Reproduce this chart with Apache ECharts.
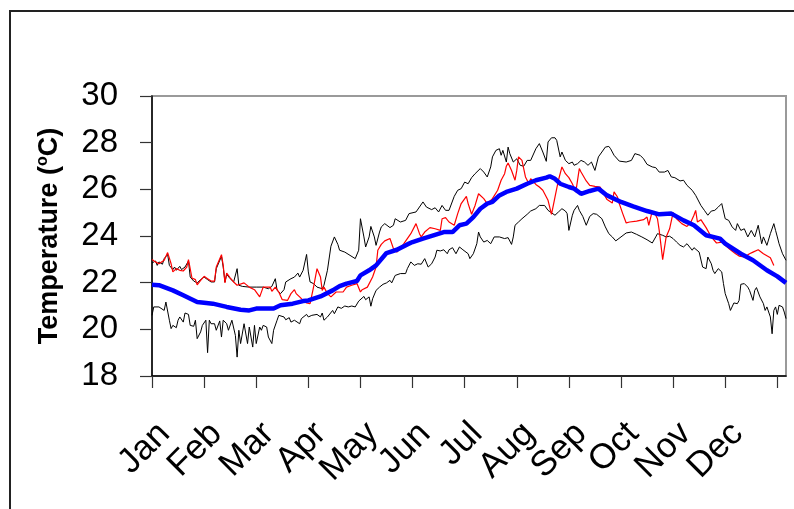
<!DOCTYPE html>
<html>
<head>
<meta charset="utf-8">
<script src="https://cdn.jsdelivr.net/npm/echarts@6/dist/echarts.min.js"></script>
<style>
  html, body { margin: 0; padding: 0; background: #fff; }
  #chart { width: 794px; height: 509px; }
</style>
</head>
<body>
<div id="chart"></div>
<script>
// Month labels, placed every 30 days along the day-of-year axis
const monthNames = ['Jan', 'Feb', 'Mar', 'Apr', 'May', 'Jun', 'Jul', 'Aug', 'Sep', 'Oct', 'Nov', 'Dec'];
const tickDays = [0, 30, 60, 90, 120, 150, 180, 210, 240, 270, 300, 330, 360];
const labelDays = [0, 30, 60, 90, 120, 150, 180, 210, 240, 270, 300, 330];
const tempTicks = [18, 20, 22, 24, 26, 28, 30];

// Daily maximum of the record: [day of year, °C]
const upperRecord = [
  [0,22.84],[2,22.93],[3,22.74],[4,22.89],[6,22.79],[7,23.03],[9,23.21],[10,22.74],[12,22.56],[13,22.67],
  [14,22.53],[16,22.7],[17,22.56],[19,22.67],[21,22.93],[22,22.24],[24,22.07],[26,21.99],[27,22.07],[28,22.13],
  [30,22.24],[32,22.13],[34,22.03],[36,22.03],[37,22.6],[40,23.13],[41,22.67],[42,22.03],[43,22.36],[45,22.17],
  [47,22.03],[49,22.6],[50,21.89],[52,21.84],[56,21.81],[60,21.81],[64,21.81],[67,21.74],[69,21.84],[71,22.17],
  [72,21.67],[74,21.53],[76,21.7],[77,22.03],[80,22.17],[82,22.24],[84,22.41],[85,22.24],[87,22.53],[89,23.21],
  [90,22.46],[91,22.03],[93,21.96],[95,21.81],[98,21.74],[99,21.89],[101,22.53],[103,23.56],[105,23.96],[107,23.64],
  [108,23.39],[111,23.31],[114,23.17],[117,23.03],[119,23.39],[120,24.74],[122,23.96],[123,23.53],[125,23.96],[126,24.41],
  [128,23.96],[129,23.6],[131,24.17],[132,24.39],[134,24.53],[137,24.36],[139,24.46],[140,24.74],[143,24.6],[146,24.67],
  [148,24.96],[152,25.03],[156,25.46],[158,25.24],[159,25.31],[161,25.13],[163,25.21],[165,25.03],[167,25.31],[169,25.1],
  [171,25.1],[174,25.7],[176,25.96],[178,26.03],[180,26.31],[182,26.24],[184,26.5],[186,26.67],[189,26.89],[191,26.74],
  [193,26.53],[195,26.96],[196,27.39],[198,27.67],[200,27.74],[201,27.46],[202,27.67],[204,27.17],[205,27.81],[206,27.53],
  [208,27.17],[210,27.31],[212,27.03],[214,26.99],[216,27.24],[218,27.24],[219,27.31],[221,27.74],[223,27.96],[225,27.6],
  [227,27.2],[228,28.03],[230,28.21],[232,28.21],[233,28.1],[235,27.39],[236,27.6],[238,27.24],[240,27.1],[242,27.17],
  [243,27.03],[245,27.1],[247,27.24],[249,27.17],[251,27.03],[253,27.17],[255,26.81],[257,27.39],[259,27.6],[261,27.81],
  [263,27.84],[264,27.74],[266,27.46],[269,27.21],[273,27.17],[276,27.24],[278,27.53],[279,27.6],[281,27.46],[283,27.31],
  [285,27.07],[288,26.96],[290,26.93],[292,26.74],[295,26.74],[297,26.81],[299,26.53],[301,26.5],[304,26.36],[306,26.39],
  [308,26.17],[311,25.96],[313,25.74],[314,25.67],[316,25.31],[318,25.1],[320,24.89],[322,25.07],[324,25.1],[326,25.24],
  [328,25.39],[330,24.74],[332,24.67],[334,24.39],[336,24.24],[337,24.53],[339,24.24],[341,24.31],[343,23.96],[345,24.24],
  [347,23.96],[349,24.46],[351,23.67],[352,23.96],[354,23.6],[356,24.1],[358,24.53],[359,24.24],[360,23.96],[361,23.67],
  [363,23.24],[365,22.96]
];

// Daily minimum of the record: [day of year, °C]
const lowerRecord = [
  [0,20.6],[1,20.96],[2,21.03],[4,20.96],[5,21.0],[7,20.81],[8,21.17],[10,20.39],[11,20.03],[12,20.17],
  [14,20.07],[15,20.39],[16,20.53],[18,20.31],[19,20.7],[21,20.64],[22,20.17],[24,20.13],[25,20.39],[26,19.6],
  [28,19.89],[29,20.17],[31,20.39],[32,19.0],[33,20.39],[34,20.24],[36,20.24],[37,19.96],[39,20.36],[40,19.67],
  [41,20.39],[43,20.24],[44,19.96],[46,20.39],[48,19.74],[49,18.81],[50,19.96],[51,19.39],[53,20.24],[54,20.31],
  [55,19.39],[56,20.1],[58,19.24],[59,20.17],[60,19.39],[62,20.1],[63,19.96],[64,20.17],[66,20.1],[67,19.67],
  [69,19.39],[70,19.96],[72,20.39],[73,20.6],[74,20.53],[76,20.53],[77,20.41],[79,20.5],[80,20.31],[82,20.39],
  [83,20.41],[85,20.24],[86,20.46],[87,20.39],[89,20.64],[90,20.53],[92,20.6],[93,20.64],[95,20.64],[97,20.53],
  [98,20.7],[99,20.39],[101,20.53],[102,20.5],[104,20.81],[105,20.67],[107,20.96],[109,20.9],[111,21.0],[113,20.96],
  [115,21.0],[117,20.96],[119,21.21],[120,21.24],[122,21.41],[123,21.27],[125,21.39],[126,20.99],[127,21.31],[129,21.67],
  [131,21.81],[133,21.93],[135,21.99],[137,22.1],[138,21.99],[140,22.31],[143,22.39],[146,22.39],[147,22.6],[149,22.89],
  [151,22.74],[153,22.81],[155,22.79],[157,23.03],[159,22.67],[161,22.81],[163,23.1],[164,23.39],[166,23.36],[168,23.41],
  [170,23.24],[171,23.41],[173,23.5],[175,23.24],[177,23.53],[179,23.41],[180,23.36],[182,23.24],[183,23.03],[185,23.24],
  [187,23.67],[188,24.17],[189,23.96],[190,24.03],[191,23.74],[193,23.81],[195,23.67],[196,23.6],[197,23.96],[200,23.96],
  [203,23.89],[205,23.93],[207,23.64],[208,23.96],[209,24.46],[211,24.6],[213,24.74],[214,24.7],[216,24.93],[218,25.07],
  [219,25.1],[221,25.17],[223,25.31],[226,25.31],[228,25.1],[229,25.07],[232,24.89],[234,25.03],[236,25.17],[238,25.07],
  [239,24.96],[240,24.24],[242,24.89],[243,25.1],[245,25.31],[246,25.1],[248,24.84],[250,24.46],[252,24.84],[254,24.96],
  [256,24.93],[259,24.74],[261,24.39],[263,24.1],[265,23.96],[267,23.79],[270,23.96],[273,24.13],[276,24.17],[279,24.07],
  [282,23.96],[285,23.84],[288,23.7],[290,23.96],[291,24.1],[292,24.13],[294,24.03],[296,23.96],[298,23.99],[300,23.89],
  [302,23.74],[304,23.6],[306,23.53],[308,23.67],[309,23.64],[311,23.39],[312,23.5],[313,23.46],[315,23.31],[316,23.24],
  [317,22.67],[319,22.6],[320,23.1],[322,22.81],[323,22.53],[324,22.39],[326,22.6],[328,22.46],[329,21.96],[330,21.53],
  [332,21.1],[333,20.81],[335,21.13],[337,21.1],[338,21.24],[339,21.93],[341,21.96],[343,21.81],[344,21.67],[346,21.24],
  [347,21.67],[348,21.79],[350,21.39],[352,21.1],[353,20.81],[354,20.96],[356,20.53],[357,19.81],[358,20.81],[359,20.96],
  [360,20.64],[361,21.03],[363,20.96],[364,20.74],[365,20.46]
];

// Daily temperature of the single year: [day of year, °C]
const yearTemps = [
  [0,22.99],[2,22.89],[4,22.81],[5,22.79],[7,22.96],[9,23.29],[11,22.81],[12,22.46],[14,22.6],[16,22.53],
  [18,22.5],[20,22.67],[21,22.99],[23,22.2],[25,22.13],[26,21.91],[28,22.1],[30,22.27],[32,22.17],[34,22.07],
  [36,22.07],[37,22.67],[40,23.2],[41,22.74],[42,21.99],[43,22.41],[45,22.21],[47,22.03],[49,21.89],[50,21.81],
  [53,21.99],[56,21.81],[59,21.7],[62,21.39],[64,21.81],[66,21.81],[68,21.81],[69,21.63],[71,21.81],[73,21.6],
  [75,21.27],[78,21.24],[80,21.53],[82,21.7],[83,21.53],[85,21.39],[87,21.24],[89,21.13],[91,21.1],[93,21.81],
  [95,22.6],[97,22.24],[98,21.67],[99,21.81],[101,21.53],[103,21.39],[106,21.6],[110,21.6],[112,21.81],[115,21.89],
  [118,21.96],[120,21.6],[121,21.7],[124,21.81],[127,22.24],[129,22.67],[130,23.39],[132,23.64],[134,23.79],[137,23.89],
  [139,23.46],[141,23.31],[143,23.46],[145,23.67],[149,24.1],[152,24.53],[154,24.1],[155,23.96],[157,24.17],[160,24.36],
  [163,24.31],[166,24.24],[167,24.74],[169,24.79],[171,24.6],[174,24.46],[176,24.96],[178,25.39],[181,25.7],[182,25.39],
  [184,24.93],[186,25.31],[188,25.81],[191,25.6],[193,25.39],[194,25.39],[196,25.6],[199,25.96],[201,26.39],[203,26.67],
  [204,26.99],[205,27.13],[207,26.81],[209,26.39],[210,26.81],[211,27.39],[213,27.24],[215,26.53],[217,26.24],[218,26.46],
  [221,26.21],[223,26.1],[225,25.96],[228,25.53],[230,24.93],[232,25.67],[234,26.39],[236,26.96],[238,26.67],[240,26.5],
  [242,26.24],[244,25.89],[246,26.89],[247,26.74],[250,26.36],[252,26.17],[255,26.13],[258,26.1],[260,25.81],[262,25.56],
  [265,25.41],[266,25.89],[268,25.67],[269,25.39],[271,24.96],[273,24.56],[275,24.6],[279,24.64],[283,24.7],[285,24.81],
  [286,24.46],[288,25.07],[290,24.89],[291,24.74],[292,24.24],[294,22.99],[296,23.96],[298,24.31],[300,25.0],[302,24.74],
  [305,24.53],[308,24.41],[310,24.56],[312,24.89],[313,25.1],[314,24.6],[316,24.7],[319,24.36],[322,23.96],[325,23.7],
  [328,23.74],[330,23.6],[333,23.41],[336,23.24],[338,23.14],[341,23.1],[344,23.24],[346,23.31],[349,23.41],[352,23.24],
  [356,23.07],[358,22.74]
];

// Long-term daily mean: [day of year, °C]
const meanTemps = [
  [0,21.91],[4,21.89],[12,21.67],[18,21.46],[26,21.17],[30,21.14],[35,21.1],[43,20.96],[51,20.84],[56,20.81],
  [60,20.89],[70,20.89],[74,21.03],[81,21.1],[87,21.21],[90,21.24],[97,21.41],[104,21.67],[108,21.85],[112,21.96],
  [118,22.07],[120,22.31],[125,22.53],[129,22.74],[135,23.27],[141,23.41],[147,23.64],[150,23.74],[156,23.89],[162,24.03],
  [168,24.17],[173,24.17],[177,24.46],[181,24.53],[185,24.81],[189,25.17],[193,25.39],[196,25.46],[200,25.74],[204,25.89],
  [210,26.03],[216,26.24],[221,26.39],[227,26.5],[229,26.56],[232,26.45],[235,26.24],[240,26.1],[243,26.03],[247,25.81],
  [252,25.93],[257,26.03],[262,25.74],[270,25.46],[277,25.27],[285,25.07],[292,24.93],[299,24.96],[306,24.67],[312,24.46],
  [319,24.03],[327,23.89],[330,23.67],[339,23.24],[346,22.96],[354,22.53],[360,22.27],[365,21.99]
];

const FONT = '"Liberation Sans", Arial, Helvetica, sans-serif';

const chart = echarts.init(document.getElementById('chart'), null, { renderer: 'canvas' });

chart.setOption({
  animation: false,
  backgroundColor: '#ffffff',
  grid: {
    left: 152, top: 96, width: 634, height: 280,
    show: true, borderColor: '#9a9a9a', borderWidth: 2,
    containLabel: false, outerBoundsMode: 'none'
  },
  graphic: [{
    type: 'rect',
    shape: { x: 10, y: 11, width: 900, height: 600 },
    style: { fill: 'none', stroke: '#222', lineWidth: 2 },
    silent: true, z: -1
  }],
  xAxis: {
    type: 'value', min: 0, max: 365, interval: 30,
    axisLine: { show: true, onZero: false, lineStyle: { color: '#000', width: 1.5 } },
    axisTick: { show: true, length: 12, customValues: tickDays, lineStyle: { color: '#333', width: 1.2 } },
    axisLabel: {
      customValues: labelDays,
      formatter: v => monthNames[Math.round(v / 30)] || '',
      rotate: 45, fontSize: 35, margin: 40, color: '#000', fontFamily: FONT,
      verticalAlign: 'top',
      showMinLabel: true, showMaxLabel: true
    },
    splitLine: { show: false }
  },
  yAxis: {
    type: 'value', min: tempTicks[0], max: tempTicks[tempTicks.length - 1], interval: 2,
    name: '{t|Temperature (}{s|o}{t|C)}',
    nameLocation: 'middle', nameGap: 87,
    nameTextStyle: {
      rich: {
        t: { fontSize: 27, fontWeight: 'bold', fontFamily: FONT, color: '#000', lineHeight: 30 },
        s: { fontSize: 16, fontWeight: 'bold', fontFamily: FONT, color: '#000', verticalAlign: 'top', lineHeight: 30 }
      }
    },
    axisLine: { show: true, onZero: false, lineStyle: { color: '#000', width: 1.5 } },
    axisTick: { show: true, length: 12, lineStyle: { color: '#333', width: 1.2 } },
    axisLabel: { fontSize: 33, margin: 34, color: '#000', fontFamily: FONT, showMinLabel: true, showMaxLabel: true },
    splitLine: { show: false }
  },
  series: [
    { name: 'Maximum', type: 'line', data: upperRecord, showSymbol: false, lineStyle: { color: '#000', width: 1 }, z: 2 },
    { name: 'Minimum', type: 'line', data: lowerRecord, showSymbol: false, lineStyle: { color: '#000', width: 1 }, z: 2 },
    { name: 'Year', type: 'line', data: yearTemps, showSymbol: false, lineStyle: { color: '#ff0000', width: 1.2 }, z: 3 },
    { name: 'Mean', type: 'line', data: meanTemps, showSymbol: false, lineStyle: { color: '#0000ff', width: 4.5 }, z: 4 }
  ]
});
</script>
</body>
</html>
